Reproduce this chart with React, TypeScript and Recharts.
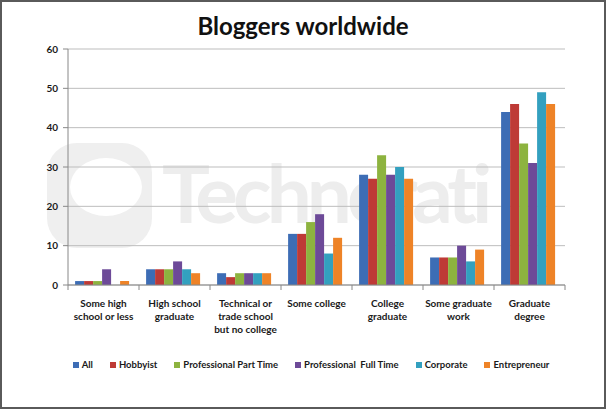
import { BarChart, Bar, XAxis, YAxis, CartesianGrid } from "recharts";

// ── Data ──────────────────────────────────────────────────────────────────────

const CATEGORIES = [
  "Some high\nschool or less",
  "High school\ngraduate",
  "Technical or\ntrade school\nbut no college",
  "Some college",
  "College\ngraduate",
  "Some graduate\nwork",
  "Graduate\ndegree",
];

const ALL = [1, 4, 3, 13, 28, 7, 44];
const HOBBYIST = [1, 4, 2, 13, 27, 7, 46];
const PRO_PART_TIME = [1, 4, 3, 16, 33, 7, 36];
const PRO_FULL_TIME = [4, 6, 3, 18, 28, 10, 31];
const CORPORATE = [0, 4, 3, 8, 30, 6, 49];
const ENTREPRENEUR = [1, 3, 3, 12, 27, 9, 46];

const Y_TICKS = [0, 10, 20, 30, 40, 50, 60];

const SERIES = [
  { key: "all", name: "All", values: ALL, color: "#3D6DB5" },
  { key: "hobbyist", name: "Hobbyist", values: HOBBYIST, color: "#BE3A36" },
  { key: "ppt", name: "Professional Part Time", values: PRO_PART_TIME, color: "#8DB33F" },
  { key: "pft", name: "Professional  Full Time", values: PRO_FULL_TIME, color: "#6D4A98" },
  { key: "corporate", name: "Corporate", values: CORPORATE, color: "#33A0BF" },
  { key: "entrepreneur", name: "Entrepreneur", values: ENTREPRENEUR, color: "#EE8327" },
];

const chartData = CATEGORIES.map((name, i) => {
  const row: Record<string, string | number> = { name };
  SERIES.forEach((s) => {
    row[s.key] = s.values[i];
  });
  return row;
});

const FONT = "Lato, 'Open Sans', sans-serif";

// ── Category tick (multi-line, Excel-style boundary tick marks) ─────────────

function CategoryTick(props: any) {
  const { x, y, payload, index, width, visibleTicksCount } = props;
  const band = width / visibleTicksCount;
  const lines = String(payload.value).split("\n");
  const axisY = y - 8;
  return (
    <g>
      <line x1={x - band / 2} x2={x - band / 2} y1={axisY} y2={axisY + 5} stroke="#888" />
      {index === visibleTicksCount - 1 && (
        <line x1={x + band / 2} x2={x + band / 2} y1={axisY} y2={axisY + 5} stroke="#888" />
      )}
      <text
        x={x}
        y={axisY + 22}
        textAnchor="middle"
        fontFamily={FONT}
        fontWeight="bold"
        fontSize={10}
        fill="#1a1a1a"
      >
        {lines.map((l, i) => (
          <tspan key={i} x={x} dy={i === 0 ? 0 : 13}>
            {l}
          </tspan>
        ))}
      </text>
    </g>
  );
}

// ── App ───────────────────────────────────────────────────────────────────────

export default function App() {
  return (
    <div
      style={{
        position: "absolute",
        left: 0,
        top: 0,
        width: 606,
        height: 409,
        boxSizing: "border-box",
        border: "2px solid #5a5a5a",
        background: "#fff",
        overflow: "hidden",
        fontFamily: FONT,
      }}
    >
      {/* Technorati watermark */}
      <div
        style={{
          position: "absolute",
          left: 45,
          top: 141,
          width: 105,
          height: 105,
          background: "#efefef",
          borderRadius: 30,
        }}
      />
      <div
        style={{
          position: "absolute",
          left: 68,
          top: 156,
          width: 72,
          height: 58,
          background: "#fff",
          borderRadius: "50%",
        }}
      />
      <div
        style={{
          position: "absolute",
          left: 160,
          top: 150,
          fontSize: 80,
          fontWeight: "bold",
          color: "#ededed",
          letterSpacing: -5,
          lineHeight: 1,
          whiteSpace: "nowrap",
        }}
      >
        Technorati
      </div>
      <div style={{ position: "absolute", left: 513, top: 164, fontSize: 12, color: "#e6e6e6" }}>
        TM
      </div>

      <div
        style={{
          position: "absolute",
          left: 0,
          top: 9,
          width: 602,
          textAlign: "center",
          fontSize: 24,
          fontWeight: "bold",
          color: "#111",
        }}
      >
        Bloggers worldwide
      </div>

      <div style={{ position: "absolute", left: -2, top: -2 }}>
        <BarChart
          width={606}
          height={409}
          data={chartData}
          margin={{ top: 49, right: 41, bottom: 44, left: 20 }}
          barCategoryGap="10%"
          barGap={0}
        >
          <CartesianGrid vertical={false} stroke="#bdbdbd" />
          <XAxis
            dataKey="name"
            interval={0}
            height={80}
            tickLine={false}
            axisLine={{ stroke: "#888" }}
            tick={<CategoryTick />}
          />
          <YAxis
            width={48}
            domain={[0, 60]}
            ticks={Y_TICKS}
            tickSize={5}
            tickMargin={5}
            axisLine={{ stroke: "#888" }}
            tickLine={{ stroke: "#888" }}
            tick={{ fontSize: 10, fontWeight: "bold", fill: "#1a1a1a", fontFamily: FONT }}
          />
          {SERIES.map((s) => (
            <Bar key={s.key} dataKey={s.key} name={s.name} fill={s.color} isAnimationActive={false} />
          ))}
        </BarChart>
      </div>

      {/* Legend */}
      <div
        style={{
          position: "absolute",
          left: 0,
          top: 357,
          width: 618,
          display: "flex",
          justifyContent: "center",
          gap: 17,
        }}
      >
        {SERIES.map((s) => (
          <div key={s.key} style={{ display: "flex", alignItems: "center", gap: 3 }}>
            <span style={{ width: 6, height: 6, background: s.color, display: "inline-block" }} />
            <span
              style={{ fontSize: 9.5, fontWeight: "bold", color: "#1a1a1a", whiteSpace: "pre" }}
            >
              {s.name}
            </span>
          </div>
        ))}
      </div>
    </div>
  );
}
